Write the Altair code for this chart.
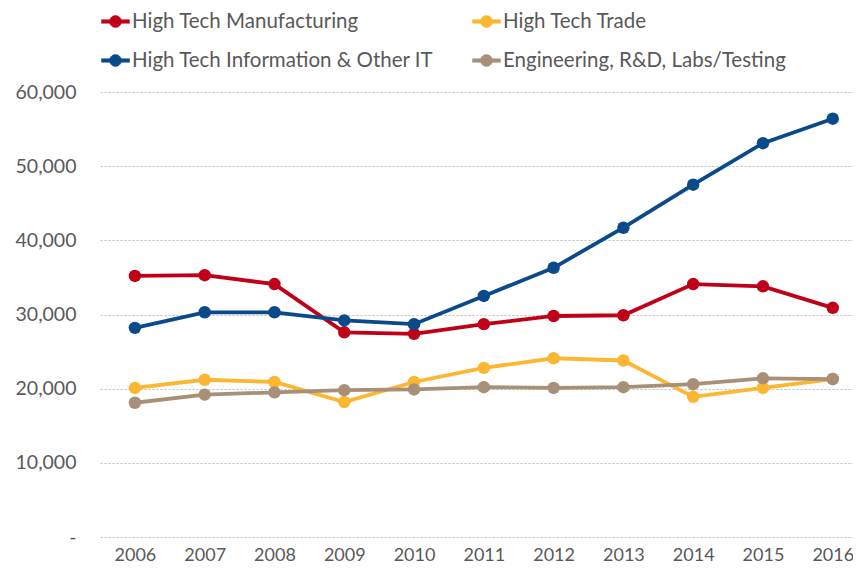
import math
import altair as alt
import pandas as pd

years = [2006, 2007, 2008, 2009, 2010, 2011, 2012, 2013, 2014, 2015, 2016]
# order chosen so the 2-column legend reads like the original
series_names = [
    "High Tech Manufacturing",
    "High Tech Information & Other IT",
    "High Tech Trade",
    "Engineering, R&D, Labs/Testing",
]
manufacturing = [35200, 35300, 34100, 27600, 27400, 28700, 29800, 29900, 34100, 33800, 30900]
information = [28200, 30300, 30300, 29200, 28700, 32500, 36300, 41700, 47500, 53100, 56400]
trade = [20100, 21200, 20900, 18200, 20900, 22800, 24100, 23800, 18900, 20100, 21300]
engineering = [18100, 19200, 19500, 19800, 19900, 20200, 20100, 20200, 20600, 21400, 21300]
colors = ["#C00018", "#0B4A8A", "#FBB731", "#A89078"]
y_ticks = [0, 10000, 20000, 30000, 40000, 50000, 60000]

rows = []
for name, vals in zip(series_names, [manufacturing, information, trade, engineering]):
    for yr, v in zip(years, vals):
        rows.append({"year": yr, "value": v, "series": name})
df = pd.DataFrame(rows)

FONT = "Lato"
TXT = "#595959"

# legend glyph: a short line with a dot in the middle (no arc commands)
r = 0.43
h = 0.13
circle_pts = " ".join(
    ("M" if i == 0 else "L") + f"{r*math.cos(2*math.pi*i/20):.3f},{r*math.sin(2*math.pi*i/20):.3f}"
    for i in range(20)
)
legend_path = f"M-1,-{h} L1,-{h} L1,{h} L-1,{h} Z {circle_pts} Z"

x = alt.X("year:Q",
          scale=alt.Scale(domain=[2005.5, 2016.29], nice=False, zero=False),
          axis=alt.Axis(values=years, format="d", title=None, grid=False, domain=False,
                        ticks=False, labelPadding=9, labelFontSize=18, labelFont=FONT,
                        labelColor=TXT, labelFlush=False))
y = alt.Y("value:Q",
          scale=alt.Scale(domain=[0, 60000], nice=False),
          axis=alt.Axis(values=y_ticks, title=None, domain=False, ticks=False,
                        labelPadding=24, labelFontSize=19.5, labelFont=FONT, labelColor=TXT,
                        labelExpr="datum.value == 0 ? '-\u00a0\u00a0\u00a0' : format(datum.value, ',')",
                        grid=True, gridColor="#BDBDBD", gridDash=[2, 2], gridWidth=1))

color = alt.Color("series:N", scale=alt.Scale(domain=series_names, range=colors),
                  legend=alt.Legend(title=None, orient="none", legendX=1, legendY=-85,
                                    columns=2, symbolType=legend_path, symbolSize=784,
                                    symbolStrokeWidth=0.5,
                                    labelFontSize=20.5, labelFont=FONT,
                                    labelColor=TXT, labelOffset=2, rowPadding=14,
                                    columnPadding=37, labelLimit=400))

lines = alt.Chart(df).mark_line(strokeWidth=3.8).encode(
    x=x, y=y, color=color,
)

points = alt.Chart(df).mark_circle(size=155, opacity=1).encode(
    x=x, y=y, color=color,
)

chart = alt.layer(lines, points).properties(
    width=753, height=445,
    background="white",
    autosize=alt.AutoSizeParams(type="none"),
    padding={"left": 92, "top": 84, "right": 0, "bottom": 29},
).configure_view(stroke=None)

chart.save("out.html", embed_options={"renderer": "svg", "actions": False})
